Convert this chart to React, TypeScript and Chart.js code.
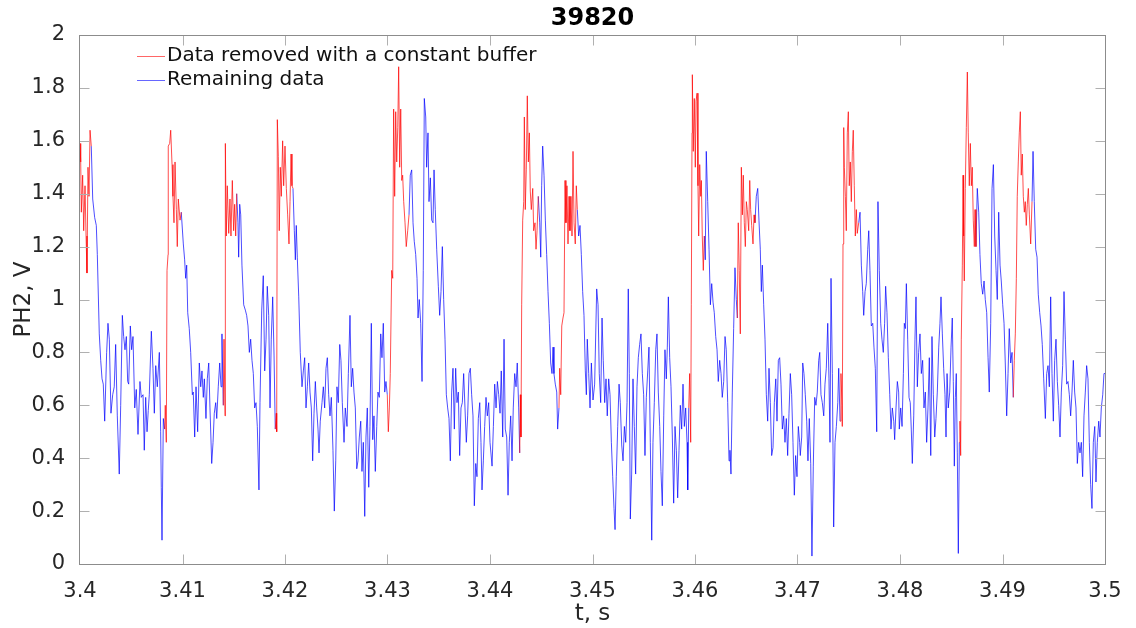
import { useEffect, useRef } from 'react';
import { Chart, registerables } from 'chart.js';

Chart.register(...registerables);

const TITLE = '39820';
const X_LABEL = 't, s';
const Y_LABEL = 'PH2, V';
const LEGEND_REMOVED = 'Data removed with a constant buffer';
const LEGEND_REMAINING = 'Remaining data';

const T0 = 3.4; // s
const X_MIN = 3.4;
const X_MAX = 3.5;
const X_STEP = 0.01;
const Y_MIN = 0;
const Y_MAX = 2;
const Y_STEP = 0.2;

// sample times, ms after 3.4 s
const timeMs = [
  0.00, 0.07, 0.13, 0.26, 0.36, 0.49, 0.59, 0.68, 0.78, 0.88,
  0.98, 1.10, 1.24, 1.43, 1.59, 1.69, 1.88, 2.02, 2.15, 2.27,
  2.41, 2.60, 2.73, 2.86, 3.02, 3.19, 3.34, 3.48, 3.64, 3.83,
  3.97, 4.13, 4.26, 4.39, 4.52, 4.65, 4.75, 4.91, 5.04, 5.17,
  5.34, 5.49, 5.66, 5.85, 5.98, 6.15, 6.27, 6.41, 6.54, 6.66,
  6.76, 6.96, 7.12, 7.25, 7.39, 7.54, 7.74, 7.87, 7.93, 8.00,
  8.13, 8.26, 8.32, 8.42, 8.49, 8.59, 8.61, 8.75, 8.85, 8.98,
  9.07, 9.17, 9.27, 9.40, 9.49, 9.59, 9.76, 9.88, 10.08, 10.21,
  10.31, 10.41, 10.51, 10.66, 10.80, 10.96, 11.05, 11.19, 11.32, 11.48,
  11.64, 11.78, 11.90, 12.03, 12.13, 12.29, 12.42, 12.56, 12.68, 12.85,
  12.98, 13.10, 13.24, 13.34, 13.49, 13.63, 13.76, 13.85, 13.98, 14.05,
  14.15, 14.18, 14.27, 14.37, 14.51, 14.63, 14.73, 14.86, 14.99, 15.09,
  15.19, 15.29, 15.41, 15.48, 15.58, 15.68, 15.80, 15.97, 16.13, 16.26,
  16.39, 16.52, 16.65, 16.78, 16.91, 17.04, 17.17, 17.30, 17.46, 17.56,
  17.73, 17.88, 18.02, 18.15, 18.27, 18.41, 18.54, 18.66, 18.80, 18.93,
  19.05, 19.15, 19.19, 19.25, 19.35, 19.44, 19.54, 19.64, 19.77, 19.87,
  20.00, 20.13, 20.26, 20.39, 20.49, 20.59, 20.68, 20.78, 20.91, 21.01,
  21.10, 21.20, 21.34, 21.49, 21.66, 21.79, 21.92, 22.05, 22.18, 22.31,
  22.44, 22.57, 22.70, 22.83, 22.96, 23.09, 23.22, 23.32, 23.44, 23.61,
  23.74, 23.87, 24.00, 24.13, 24.26, 24.39, 24.52, 24.68, 24.81, 24.95,
  25.07, 25.20, 25.34, 25.46, 25.59, 25.76, 25.88, 26.05, 26.18, 26.34,
  26.47, 26.60, 26.73, 26.86, 27.00, 27.12, 27.25, 27.39, 27.51, 27.64,
  27.78, 27.90, 28.03, 28.17, 28.29, 28.42, 28.56, 28.68, 28.81, 28.95,
  29.07, 29.20, 29.34, 29.46, 29.59, 29.73, 29.85, 29.98, 30.08, 30.18,
  30.27, 30.41, 30.51, 30.60, 30.70, 30.80, 30.90, 31.00, 31.09, 31.19,
  31.29, 31.39, 31.48, 31.58, 31.71, 31.83, 31.97, 32.10, 32.22, 32.36,
  32.49, 32.61, 32.75, 32.88, 32.98, 33.10, 33.24, 33.37, 33.49, 33.59,
  33.73, 33.82, 33.95, 34.05, 34.18, 34.31, 34.44, 34.54, 34.66, 34.80,
  34.96, 35.09, 35.22, 35.35, 35.48, 35.61, 35.74, 35.87, 36.00, 36.13,
  36.26, 36.39, 36.52, 36.65, 36.78, 36.91, 37.04, 37.17, 37.30, 37.43,
  37.56, 37.69, 37.82, 37.95, 38.08, 38.21, 38.34, 38.47, 38.61, 38.73,
  38.86, 39.00, 39.12, 39.22, 39.35, 39.48, 39.61, 39.74, 39.87, 40.00,
  40.20, 40.33, 40.46, 40.59, 40.72, 40.85, 40.98, 41.10, 41.24, 41.37,
  41.49, 41.63, 41.76, 41.88, 42.02, 42.15, 42.27, 42.41, 42.54, 42.66,
  42.80, 42.90, 42.96, 43.02, 43.09, 43.19, 43.29, 43.35, 43.44, 43.54,
  43.64, 43.74, 43.84, 43.93, 44.03, 44.17, 44.26, 44.39, 44.49, 44.59,
  44.71, 44.85, 44.95, 45.04, 45.14, 45.27, 45.40, 45.53, 45.66, 45.79,
  45.92, 46.05, 46.15, 46.24, 46.37, 46.51, 46.60, 46.73, 46.80, 46.90,
  47.00, 47.12, 47.22, 47.32, 47.41, 47.51, 47.61, 47.71, 47.80, 47.90,
  48.00, 48.10, 48.20, 48.32, 48.42, 48.52, 48.65, 48.78, 48.91, 49.04,
  49.17, 49.30, 49.40, 49.49, 49.63, 49.76, 49.89, 50.05, 50.21, 50.41,
  50.54, 50.66, 50.80, 50.93, 51.05, 51.19, 51.32, 51.44, 51.58, 51.71,
  51.84, 51.97, 52.10, 52.20, 52.32, 52.46, 52.59, 52.71, 52.85, 52.98,
  53.11, 53.24, 53.37, 53.49, 53.59, 53.69, 53.82, 53.95, 54.08, 54.21,
  54.34, 54.47, 54.60, 54.73, 54.86, 54.99, 55.12, 55.25, 55.39, 55.51,
  55.64, 55.78, 55.90, 56.03, 56.17, 56.29, 56.42, 56.56, 56.68, 56.81,
  56.95, 57.07, 57.20, 57.30, 57.40, 57.53, 57.66, 57.79, 57.92, 58.05,
  58.18, 58.31, 58.44, 58.57, 58.70, 58.83, 58.96, 59.09, 59.22, 59.29,
  59.39, 59.48, 59.58, 59.64, 59.71, 59.74, 59.83, 59.93, 60.03, 60.10,
  60.20, 60.29, 60.36, 60.46, 60.56, 60.62, 60.71, 60.81, 60.91, 61.00,
  61.10, 61.24, 61.37, 61.50, 61.63, 61.76, 61.88, 62.02, 62.15, 62.27,
  62.41, 62.54, 62.66, 62.80, 62.93, 63.05, 63.19, 63.32, 63.41, 63.51,
  63.64, 63.77, 63.90, 64.03, 64.13, 64.22, 64.32, 64.42, 64.52, 64.62,
  64.71, 64.81, 64.91, 65.01, 65.10, 65.24, 65.34, 65.43, 65.53, 65.66,
  65.76, 65.85, 65.98, 66.12, 66.24, 66.37, 66.47, 66.57, 66.70, 66.83,
  66.96, 67.09, 67.22, 67.35, 67.48, 67.61, 67.74, 67.88, 68.00, 68.13,
  68.26, 68.39, 68.52, 68.65, 68.78, 68.91, 69.04, 69.17, 69.30, 69.43,
  69.56, 69.69, 69.82, 69.95, 70.08, 70.21, 70.27, 70.41, 70.51, 70.63,
  70.76, 70.90, 71.02, 71.15, 71.29, 71.41, 71.54, 71.68, 71.80, 71.93,
  72.07, 72.17, 72.29, 72.42, 72.56, 72.68, 72.81, 72.95, 73.07, 73.17,
  73.27, 73.40, 73.53, 73.66, 73.79, 73.93, 74.02, 74.15, 74.24, 74.34,
  74.37, 74.44, 74.51, 74.57, 74.67, 74.76, 74.86, 74.96, 75.05, 75.15,
  75.25, 75.35, 75.44, 75.54, 75.64, 75.74, 75.83, 75.97, 76.10, 76.23,
  76.36, 76.46, 76.59, 76.71, 76.85, 76.95, 77.07, 77.20, 77.34, 77.46,
  77.59, 77.73, 77.85, 77.98, 78.12, 78.24, 78.37, 78.50, 78.60, 78.73,
  78.86, 79.00, 79.12, 79.25, 79.39, 79.48, 79.61, 79.74, 79.87, 79.93,
  80.07, 80.20, 80.33, 80.42, 80.52, 80.62, 80.75, 80.88, 81.00, 81.10,
  81.20, 81.34, 81.46, 81.56, 81.69, 81.82, 81.95, 82.08, 82.21, 82.34,
  82.47, 82.60, 82.73, 82.86, 83.00, 83.12, 83.25, 83.39, 83.51, 83.64,
  83.78, 83.90, 84.00, 84.13, 84.26, 84.39, 84.49, 84.59, 84.71, 84.85,
  84.98, 85.10, 85.20, 85.30, 85.40, 85.49, 85.59, 85.69, 85.79, 85.85,
  85.92, 85.98, 86.08, 86.15, 86.21, 86.27, 86.37, 86.47, 86.57, 86.66,
  86.76, 86.86, 86.96, 87.05, 87.15, 87.25, 87.32, 87.41, 87.54, 87.68,
  87.80, 87.93, 88.07, 88.20, 88.32, 88.46, 88.59, 88.71, 88.85, 88.98,
  89.11, 89.24, 89.37, 89.49, 89.63, 89.76, 89.88, 90.02, 90.15, 90.27,
  90.41, 90.54, 90.66, 90.80, 90.93, 91.05, 91.15, 91.25, 91.35, 91.44,
  91.54, 91.64, 91.74, 91.83, 91.93, 92.03, 92.13, 92.22, 92.32, 92.42,
  92.52, 92.62, 92.75, 92.88, 92.98, 93.10, 93.24, 93.37, 93.49, 93.63,
  93.76, 93.88, 94.02, 94.18, 94.31, 94.44, 94.57, 94.70, 94.83, 94.96,
  95.09, 95.22, 95.35, 95.48, 95.61, 95.74, 95.87, 96.00, 96.13, 96.26,
  96.39, 96.52, 96.65, 96.78, 96.91, 97.04, 97.17, 97.30, 97.43, 97.56,
  97.69, 97.82, 97.95, 98.08, 98.21, 98.34, 98.47, 98.60, 98.73, 98.86,
  99.00, 99.12, 99.25, 99.39, 99.51, 99.64, 99.78, 99.90, 100.00,
];

// PH2 signal, V
const ph2 = [
  1.59, 1.52, 1.33, 1.47, 1.26, 1.43, 1.24, 1.10, 1.50, 1.39,
  1.64, 1.58, 1.38, 1.31, 1.28, 1.17, 0.87, 0.77, 0.70, 0.68,
  0.54, 0.80, 0.91, 0.85, 0.57, 0.64, 0.67, 0.83, 0.56, 0.34,
  0.60, 0.94, 0.86, 0.81, 0.86, 0.69, 0.68, 0.90, 0.81, 0.86,
  0.59, 0.66, 0.49, 0.69, 0.63, 0.64, 0.43, 0.63, 0.50, 0.58,
  0.64, 0.88, 0.74, 0.57, 0.75, 0.67, 0.80, 0.50, 0.29, 0.09,
  0.55, 0.51, 0.60, 0.46, 1.11, 1.17, 1.58, 1.59, 1.64, 1.51,
  1.39, 1.29, 1.52, 1.34, 1.20, 1.38, 1.30, 1.33, 1.21, 1.15,
  1.08, 1.13, 0.95, 0.89, 0.80, 0.64, 0.65, 0.48, 0.67, 0.50,
  0.76, 0.67, 0.73, 0.63, 0.70, 0.55, 0.70, 0.76, 0.59, 0.38,
  0.46, 0.57, 0.61, 0.55, 0.67, 0.76, 0.67, 0.87, 0.60, 0.85,
  0.56, 1.59, 1.24, 1.43, 1.25, 1.38, 1.24, 1.45, 1.26, 1.36,
  1.24, 1.40, 1.29, 1.16, 1.36, 1.32, 1.13, 0.98, 0.96, 0.94,
  0.90, 0.80, 0.85, 0.77, 0.72, 0.59, 0.61, 0.52, 0.28, 0.61,
  0.96, 1.09, 0.73, 0.85, 1.05, 0.94, 0.59, 0.85, 1.01, 0.79,
  0.51, 0.57, 0.50, 1.68, 1.54, 1.26, 1.50, 1.39, 1.60, 1.43,
  1.58, 1.42, 1.32, 1.21, 1.37, 1.55, 1.43, 1.42, 1.26, 1.15,
  1.28, 1.16, 1.01, 0.80, 0.67, 0.73, 0.78, 0.59, 0.67, 0.76,
  0.65, 0.59, 0.39, 0.57, 0.69, 0.59, 0.51, 0.42, 0.54, 0.61,
  0.67, 0.59, 0.74, 0.78, 0.64, 0.56, 0.63, 0.43, 0.20, 0.39,
  0.67, 0.61, 0.83, 0.77, 0.61, 0.46, 0.59, 0.52, 0.72, 0.94,
  0.67, 0.74, 0.65, 0.59, 0.36, 0.39, 0.48, 0.54, 0.35, 0.46,
  0.18, 0.48, 0.59, 0.29, 0.52, 0.91, 0.47, 0.56, 0.35, 0.52,
  0.65, 0.63, 0.87, 0.78, 0.91, 0.65, 0.69, 0.64, 0.50, 0.59,
  0.72, 1.11, 1.08, 1.72, 1.39, 1.71, 1.52, 1.65, 1.88, 1.50,
  1.72, 1.45, 1.47, 1.37, 1.29, 1.20, 1.26, 1.32, 1.47, 1.49,
  1.29, 1.22, 1.17, 1.08, 0.93, 1.00, 0.91, 0.69, 1.11, 1.76,
  1.69, 1.50, 1.63, 1.37, 1.46, 1.30, 1.29, 1.49, 1.34, 1.19,
  1.05, 0.94, 1.03, 1.20, 1.00, 0.85, 0.64, 0.59, 0.55, 0.39,
  0.65, 0.74, 0.51, 0.74, 0.61, 0.65, 0.41, 0.59, 0.61, 0.72,
  0.59, 0.46, 0.56, 0.72, 0.74, 0.64, 0.56, 0.22, 0.38, 0.33,
  0.55, 0.61, 0.46, 0.28, 0.39, 0.52, 0.63, 0.56, 0.61, 0.46,
  0.37, 0.52, 0.68, 0.59, 0.69, 0.64, 0.57, 0.73, 0.48, 0.85,
  0.51, 0.48, 0.26, 0.46, 0.56, 0.39, 0.59, 0.72, 0.67, 0.76,
  0.59, 0.42, 0.64, 0.48, 0.98, 1.30, 1.37, 1.69, 1.34, 1.49,
  1.77, 1.52, 1.63, 1.41, 1.34, 1.42, 1.26, 1.29, 1.19, 1.26,
  1.39, 1.29, 1.16, 1.43, 1.58, 1.47, 1.30, 1.17, 1.03, 0.91,
  0.76, 0.72, 0.82, 0.72, 0.68, 0.65, 0.51, 0.59, 0.74, 0.64,
  0.90, 0.93, 0.95, 1.45, 1.29, 1.43, 1.21, 1.39, 1.26, 1.39,
  1.24, 1.56, 1.29, 1.21, 1.43, 1.34, 1.24, 1.28, 1.17, 1.03,
  0.94, 0.73, 0.64, 0.85, 0.72, 0.59, 0.76, 0.62, 0.68, 1.04,
  0.98, 0.72, 0.61, 0.93, 0.77, 0.61, 0.70, 0.56, 0.70, 0.64,
  0.46, 0.33, 0.21, 0.13, 0.33, 0.52, 0.68, 0.61, 0.45, 0.39,
  0.52, 0.46, 0.61, 1.04, 0.72, 0.17, 0.34, 0.70, 0.52, 0.34,
  0.67, 0.78, 0.83, 0.87, 0.72, 0.64, 0.41, 0.63, 0.73, 0.82,
  0.46, 0.09, 0.46, 0.61, 0.81, 0.87, 0.65, 0.52, 0.35, 0.22,
  0.56, 0.81, 0.70, 0.82, 1.01, 0.78, 0.67, 0.48, 0.23, 0.52,
  0.43, 0.25, 0.43, 0.60, 0.51, 0.68, 0.52, 0.59, 0.46, 0.28,
  0.59, 0.72, 0.46, 0.98, 1.63, 1.85, 1.56, 1.76, 1.50, 1.75,
  1.78, 1.43, 1.24, 1.51, 1.39, 1.45, 1.24, 1.11, 1.24, 1.15,
  1.56, 1.37, 1.19, 0.98, 1.06, 0.99, 0.95, 0.86, 0.81, 0.69,
  0.77, 0.72, 0.63, 0.69, 0.86, 0.81, 0.61, 0.39, 0.43, 0.34,
  0.65, 0.89, 1.12, 1.00, 0.93, 1.29, 1.11, 0.87, 1.50, 1.32,
  1.47, 1.29, 1.20, 1.37, 1.34, 1.26, 1.45, 1.34, 1.28, 1.21,
  1.32, 1.29, 1.39, 1.42, 1.30, 1.19, 1.03, 1.13, 0.98, 0.85,
  0.64, 0.54, 0.74, 0.61, 0.41, 0.44, 0.61, 0.70, 0.54, 0.77,
  0.78, 0.68, 0.51, 0.56, 0.46, 0.55, 0.41, 0.57, 0.72, 0.64,
  0.46, 0.26, 0.41, 0.33, 0.52, 0.46, 0.41, 0.48, 0.76, 0.72,
  0.64, 0.54, 0.39, 0.55, 0.38, 0.03, 0.37, 0.63, 0.60, 0.65,
  0.77, 0.80, 0.64, 0.61, 0.56, 0.68, 0.74, 0.91, 0.70, 0.46,
  1.08, 0.72, 0.14, 0.46, 0.52, 0.61, 0.74, 0.54, 0.72, 0.60,
  0.52, 1.21, 1.65, 1.50, 1.39, 1.26, 1.63, 1.71, 1.43, 1.52,
  1.37, 1.56, 1.64, 1.43, 1.24, 1.34, 1.25, 1.29, 1.33, 1.13,
  1.03, 0.94, 1.03, 1.06, 1.19, 1.26, 1.11, 0.90, 0.91, 0.82,
  0.74, 0.50, 1.37, 1.11, 0.91, 0.85, 0.80, 0.91, 1.05, 0.95,
  0.78, 0.64, 0.51, 0.59, 0.54, 0.47, 0.59, 0.69, 0.65, 0.51,
  0.59, 0.52, 0.72, 0.91, 0.89, 1.06, 0.85, 0.63, 0.61, 0.51,
  0.38, 0.56, 0.85, 1.01, 0.67, 0.80, 0.87, 0.72, 0.77, 0.59,
  0.65, 0.46, 0.59, 0.78, 0.41, 0.86, 0.64, 0.48, 0.55, 0.65,
  0.82, 0.91, 1.01, 0.87, 0.74, 0.64, 0.48, 0.72, 0.59, 0.65,
  0.82, 0.93, 0.69, 0.37, 0.63, 0.72, 0.42, 0.04, 0.46, 0.54,
  0.41, 0.85, 1.13, 1.47, 1.24, 1.07, 1.42, 1.65, 1.86, 1.63,
  1.43, 1.59, 1.43, 1.50, 1.30, 1.20, 1.34, 1.20, 1.42, 1.33,
  1.17, 1.06, 1.02, 1.07, 1.00, 0.95, 0.78, 0.65, 0.91, 1.42,
  1.51, 1.24, 1.11, 1.00, 1.33, 1.13, 1.07, 0.98, 0.91, 0.76,
  0.56, 0.72, 0.89, 0.76, 0.80, 0.63, 0.77, 0.87, 1.08, 1.39,
  1.52, 1.63, 1.71, 1.47, 1.55, 1.39, 1.33, 1.37, 1.28, 1.36,
  1.42, 1.32, 1.21, 1.37, 1.56, 1.37, 1.19, 1.16, 1.02, 0.95,
  0.90, 0.83, 0.70, 0.55, 0.72, 0.75, 0.67, 1.01, 0.72, 0.54,
  0.77, 0.85, 0.69, 0.60, 0.48, 0.65, 0.75, 1.03, 0.85, 0.68,
  0.69, 0.64, 0.56, 0.65, 0.77, 0.65, 0.59, 0.38, 0.46, 0.42,
  0.46, 0.33, 0.56, 0.65, 0.75, 0.70, 0.46, 0.30, 0.21, 0.46,
  0.52, 0.31, 0.46, 0.54, 0.48, 0.59, 0.64, 0.72, 0.72,
];

// time windows (ms after 3.4 s) removed by the constant buffer
const removedStartMs = [0.00, 8.32, 14.05, 19.15, 30.08, 42.96, 46.80, 59.48, 64.22, 74.24, 85.85, 91.15];
const removedEndMs = [0.98, 9.76, 15.19, 20.68, 31.97, 44.59, 48.42, 60.81, 65.76, 75.83, 87.32, 92.75];

const FONT = '"DejaVu Sans", "Liberation Sans", sans-serif';
const TEXT_COLOR = '#262626';
const RED = 'rgb(255,0,0)';
const BLUE = 'rgb(0,0,255)';

const decorPlugin = {
  id: 'matlabDecor',
  afterDraw(chart: any) {
    const { ctx, chartArea, scales } = chart;
    const { left, right, top, bottom } = chartArea;
    const xs = scales.x;
    const ys = scales.y;
    const L = Math.round(left) - 0.5;
    const R = Math.round(right) + 0.5;
    const T = Math.round(top) + 0.5;
    const B = Math.round(bottom) + 0.5;
    const tickLen = 10;
    ctx.save();
    ctx.lineWidth = 1;
    ctx.strokeStyle = '#b0b0b0';
    ctx.beginPath();
    xs.ticks.forEach((t: any) => {
      const p = Math.round(xs.getPixelForValue(t.value)) + 0.5;
      if (p <= L + 1 || p >= R - 1) return;
      ctx.moveTo(p, B);
      ctx.lineTo(p, B - tickLen);
      ctx.moveTo(p, T);
      ctx.lineTo(p, T + tickLen);
    });
    ys.ticks.forEach((t: any) => {
      const p = Math.round(ys.getPixelForValue(t.value)) + 0.5;
      if (p <= T + 1 || p >= B - 1) return;
      ctx.moveTo(L, p);
      ctx.lineTo(L + tickLen, p);
      ctx.moveTo(R, p);
      ctx.lineTo(R - tickLen, p);
    });
    ctx.stroke();
    ctx.strokeStyle = '#8c8c8c';
    ctx.strokeRect(L, T, R - L, B - T);

    // title
    ctx.fillStyle = '#000';
    ctx.font = `bold 24px ${FONT}`;
    ctx.textAlign = 'center';
    ctx.textBaseline = 'middle';
    ctx.fillText(TITLE, (left + right) / 2, 19);

    // legend
    const items = [
      { label: LEGEND_REMOVED, color: RED, y: 56 },
      { label: LEGEND_REMAINING, color: BLUE, y: 80 },
    ];
    ctx.font = `20px ${FONT}`;
    ctx.textAlign = 'left';
    items.forEach((it) => {
      ctx.strokeStyle = it.color;
      ctx.globalAlpha = 0.6;
      ctx.beginPath();
      ctx.moveTo(left + 57, it.y + 0.5);
      ctx.lineTo(left + 85, it.y + 0.5);
      ctx.stroke();
      ctx.globalAlpha = 1;
      ctx.fillStyle = '#111';
      ctx.fillText(it.label, left + 87, it.y);
    });
    ctx.restore();
  },
};

export default function App() {
  const ref = useRef<HTMLCanvasElement | null>(null);

  useEffect(() => {
    if (!ref.current) return;
    const n = Math.min(timeMs.length, ph2.length);
    const inRemoved = (ms: number) =>
      removedStartMs.some((s, k) => ms >= s - 1e-9 && ms <= removedEndMs[k] + 1e-9);
    const flags: boolean[] = [];
    const xsVals: number[] = [];
    for (let i = 0; i < n; i++) {
      flags.push(inRemoved(timeMs[i]));
      xsVals.push(+(T0 + timeMs[i] / 1000).toFixed(6));
    }
    const blueData = [];
    const redData = [];
    for (let i = 0; i < n; i++) {
      blueData.push({ x: xsVals[i], y: flags[i] ? null : ph2[i] });
      const near = flags[i] || (i > 0 && flags[i - 1]) || (i < n - 1 && flags[i + 1]);
      redData.push({ x: xsVals[i], y: near ? ph2[i] : null });
    }

    const chart = new Chart(ref.current, {
      type: 'line',
      data: {
        datasets: [
          {
            label: LEGEND_REMOVED,
            data: redData as any,
            borderColor: RED,
            borderWidth: 0.7,
            pointRadius: 0,
            spanGaps: false,
            tension: 0,
          },
          {
            label: LEGEND_REMAINING,
            data: blueData as any,
            borderColor: BLUE,
            borderWidth: 0.7,
            pointRadius: 0,
            spanGaps: false,
            tension: 0,
          },
        ],
      },
      options: {
        animation: false,
        responsive: false,
        devicePixelRatio: 1,
        layout: { padding: { top: 35, right: 31, left: 0, bottom: 0 } },
        plugins: {
          legend: { display: false },
          title: { display: false },
          tooltip: { enabled: false },
        },
        scales: {
          x: {
            type: 'linear',
            min: X_MIN,
            max: X_MAX,
            grid: { display: false },
            border: { display: false },
            ticks: {
              stepSize: X_STEP,
              autoSkip: false,
              maxRotation: 0,
              padding: 7,
              color: TEXT_COLOR,
              font: { family: FONT, size: 21 },
              callback: (v: any) => String(Number(Number(v).toFixed(2))),
            },
            title: {
              display: true,
              text: X_LABEL,
              color: TEXT_COLOR,
              font: { family: FONT, size: 23 },
              padding: { top: 0, bottom: 0 },
            },
            afterFit: (s: any) => {
              s.height = 64;
            },
          },
          y: {
            type: 'linear',
            min: Y_MIN,
            max: Y_MAX,
            grid: { display: false },
            border: { display: false },
            ticks: {
              stepSize: Y_STEP,
              autoSkip: false,
              padding: 7,
              color: TEXT_COLOR,
              font: { family: FONT, size: 21 },
              callback: (v: any) => String(Number(Number(v).toFixed(1))),
            },
            title: {
              display: true,
              text: Y_LABEL,
              color: TEXT_COLOR,
              font: { family: FONT, size: 23 },
              padding: { top: 10, bottom: 0 },
            },
            afterFit: (s: any) => {
              s.width = 80;
            },
          },
        },
      },
      plugins: [decorPlugin],
    });
    return () => chart.destroy();
  }, []);

  return (
    <div style={{ position: 'fixed', left: 0, top: 0, width: 1136, height: 628, background: '#fff' }}>
      <canvas ref={ref} width={1136} height={628} style={{ display: 'block', width: 1136, height: 628 }} />
    </div>
  );
}
